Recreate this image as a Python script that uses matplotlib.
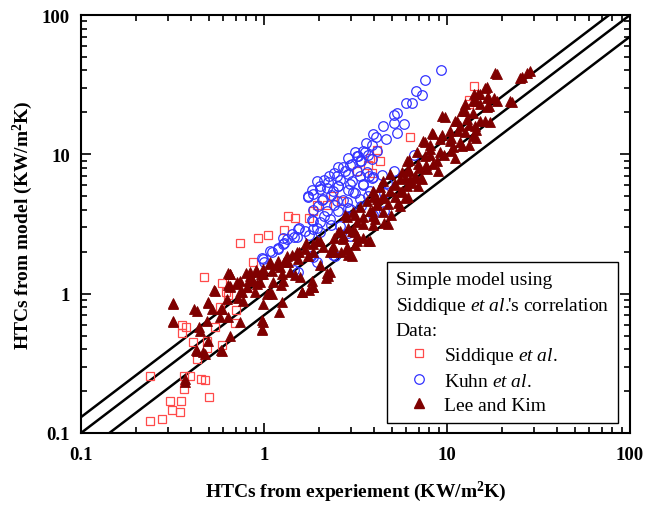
import numpy as np
import matplotlib
matplotlib.use("Agg")
import matplotlib.pyplot as plt
from matplotlib.lines import Line2D
from matplotlib.ticker import LogLocator, FixedLocator, FixedFormatter, NullFormatter

plt.rcParams['font.family'] = ['Liberation Serif', 'DejaVu Serif']
plt.rcParams['mathtext.fontset'] = 'custom'
plt.rcParams['mathtext.rm'] = 'Liberation Serif'
plt.rcParams['mathtext.it'] = 'Liberation Serif:italic'
plt.rcParams['mathtext.bf'] = 'Liberation Serif:bold'

# ---------------- data ----------------
siddique_x = [0.47, 0.589, 0.635, 0.703, 0.695, 0.575, 0.540, 0.489, 0.356, 0.374, 0.356, 0.409,
              0.489, 0.589, 0.43, 0.238, 0.366, 0.394, 0.453, 0.476, 0.366, 0.500, 0.306, 0.352,
              0.314, 0.347, 0.238, 0.277, 0.867, 0.741, 0.927, 1.05, 1.29, 1.36, 1.47, 1.77, 1.85,
              1.94, 2.21, 2.37, 2.64, 3.24, 3.70, 3.78, 4.32, 4.13, 6.31, 14.1, 13.2, 13.2, 0.83,
              3.87, 0.62]
siddique_y = [1.32, 1.19, 0.98, 0.764, 0.617, 0.804, 0.577, 0.457, 0.596, 0.577, 0.522, 0.450,
              0.407, 0.428, 0.34, 0.256, 0.256, 0.256, 0.244, 0.240, 0.207, 0.181, 0.170, 0.170,
              0.146, 0.142, 0.122, 0.126, 1.70, 2.30, 2.50, 2.64, 2.87, 3.58, 3.48, 3.48, 3.89,
              4.34, 4.34, 4.99, 4.59, 7.55, 8.43, 9.41, 9.00, 10.8, 13.3, 30.8, 24.7, 23.0, 1.09,
              7.34, 1.02]

kuhn_x = [9.23, 7.55, 6.75, 7.31, 5.96, 6.40, 5.12, 5.35, 5.85, 5.16, 5.35, 4.48, 3.92, 4.10,
          4.62, 3.61, 3.87, 3.13, 3.46, 4.17, 2.89, 3.28, 3.70, 2.96, 3.38, 2.55, 2.77, 2.42,
          3.24, 3.73, 2.12, 2.26, 2.59, 3.02, 4.42, 1.95, 2.02, 1.83, 1.73, 2.21, 2.53, 2.89,
          3.46, 3.87, 5.16, 6.61, 2.31, 3.16, 3.70, 4.52, 4.72, 2.07, 2.70, 2.42, 2.89, 3.38,
          1.85, 2.12, 1.83, 1.55, 1.45, 1.29, 1.19, 1.08, 0.97, 1.00, 1.27, 1.77, 1.94, 2.31,
          2.89, 3.95, 4.52, 1.45, 1.81, 2.37, 2.89,
          3.56, 3.22, 3.89, 3.03, 3.35, 2.70, 3.66, 2.51, 2.88, 3.35, 3.94, 2.24, 2.54, 2.95,
          3.48, 2.02, 2.38, 3.06, 3.79, 1.85, 2.10, 2.51, 2.84, 3.35, 1.74, 1.97, 2.21, 2.54,
          2.95, 1.85, 2.02, 2.30, 2.60, 1.53, 1.67, 1.85, 2.02, 1.42, 1.34, 1.51, 1.27, 1.19,
          1.11, 0.99, 2.95, 2.44, 1.85, 1.53, 1.95]
kuhn_y = [40.6, 33.9, 28.4, 26.6, 23.4, 23.4, 19.3, 19.8, 16.5, 16.8, 14.2, 15.9, 14.0, 13.3,
          12.8, 12.1, 11.7, 10.4, 10.5, 10.6, 9.41, 9.68, 9.94, 8.43, 8.91, 8.06, 7.55, 7.34,
          7.55, 6.95, 6.57, 6.95, 6.57, 6.40, 7.14, 6.40, 5.89, 5.57, 4.99, 5.72, 5.89, 5.57,
          6.05, 6.76, 7.55, 9.94, 5.13, 5.27, 4.99, 5.27, 6.22, 4.72, 4.72, 4.34, 4.11, 4.23,
          4.00, 3.58, 3.39, 2.95, 2.57, 2.30, 2.12, 2.01, 1.80, 1.70, 2.50, 2.64, 2.95, 3.12,
          3.58, 3.68, 3.89, 1.48, 1.85, 1.90, 2.72,
          10.4, 9.73, 9.27, 8.53, 8.97, 8.13, 7.48, 7.00, 7.23, 7.00, 6.89, 6.34, 5.93, 6.13,
          6.13, 5.65, 5.46, 5.37, 5.46, 5.20, 4.79, 4.63, 4.55, 4.79, 4.94, 4.26, 3.93, 3.93,
          4.06, 3.33, 3.27, 3.44, 3.06, 2.91, 2.82, 2.91, 2.77, 2.69, 2.47, 2.55, 2.28, 2.09,
          1.99, 1.77, 2.60, 1.87, 1.83, 1.43, 1.69]

lee_x = [0.652, 0.838, 0.916, 0.99, 0.711, 0.652, 0.540, 0.807, 0.916, 0.739, 0.494, 0.628,
         0.768, 0.893, 1.04, 0.318, 0.430, 0.520, 0.589, 0.635, 0.575, 0.739, 0.489, 0.318,
         0.447, 0.975, 0.99, 0.652, 0.494, 0.430, 0.476, 0.589, 0.370, 0.370,
         0.318, 0.318, 0.415, 0.444, 0.497, 0.530, 0.634, 0.58, 0.425, 0.464, 0.58, 0.709,
         0.634, 0.793, 0.906, 0.83, 0.946, 0.725, 1.08, 0.97, 0.97, 1.21, 1.24, 1.19, 1.08,
         1.48, 1.62, 1.77, 1.85, 1.55, 1.42, 1.29, 1.85, 1.69, 1.94, 2.02, 2.21, 2.17, 2.42,
         2.53, 2.42, 2.89, 3.16, 2.89, 2.64, 3.16, 3.46, 3.70, 2.77, 3.16, 3.78, 4.13, 4.52,
         3.95, 4.52, 4.94, 5.40, 5.91, 5.65, 5.16, 5.91, 6.18, 6.75, 7.06, 7.72, 8.83, 8.07,
         9.64, 10.5, 11.0, 12.1, 14.4, 13.2, 9.44, 8.26, 7.38, 9.44, 11.0, 11.5, 12.1, 12.6,
         13.8, 13.2, 14.4, 14.8, 16.1, 14.1, 16.5, 18.0, 16.1, 17.0, 18.4, 22.0, 25.2, 27.5,
         14.4, 10.5, 8.07, 6.18, 6.43, 7.22,
         18.8, 28.4, 25.7, 16.6, 15.1, 16.7, 18.8, 22.6, 13.9, 15.1, 16.6, 17.2, 15.1, 12.5,
         12.8, 9.75, 11.3, 11.8, 14.2, 10.4, 12.5, 13.9, 8.38, 9.16, 7.59, 10.4, 11.8, 8.07,
         9.16, 10.8, 6.85, 7.59, 6.04, 6.95, 8.38, 6.12, 7.78, 8.93, 5.68, 6.68, 4.89, 5.53,
         6.28, 7.29, 4.47, 5.20, 6.04, 6.95, 4.30, 4.89, 5.53, 3.94, 4.47, 5.20, 6.12, 3.94,
         3.66, 4.14, 4.76, 5.53, 3.35, 3.89, 4.47, 3.06, 3.48, 4.04, 4.76, 2.84, 3.22, 3.03,
         3.79, 2.70, 3.22, 2.84,
         4.14, 3.94, 3.48, 3.06, 3.24, 2.70, 2.60, 2.84, 3.03, 2.38, 2.02, 2.10, 2.30, 1.85,
         1.67, 1.74, 1.51, 1.53, 1.34, 1.36, 1.19, 1.22, 1.08, 1.11, 0.99, 0.96, 0.838, 0.87,
         0.652, 0.739, 0.652, 0.76, 1.25, 1.39, 1.57, 1.12, 1.27, 1.83, 2.24, 2.30, 1.62,
         1.11, 0.99, 1.25, 1.85]
lee_y = [1.38, 1.43, 1.43, 1.38, 1.21, 1.12, 1.05, 1.12, 1.18, 1.03, 0.871, 0.916, 0.887,
         1.03, 0.995, 0.843, 0.751, 0.777, 0.777, 0.680, 0.680, 0.627, 0.637, 0.627, 0.540,
         0.558, 0.627, 0.497, 0.457, 0.388, 0.369, 0.388, 0.244, 0.232,
         0.851, 0.636, 0.776, 0.579, 0.851, 1.06, 1.40, 0.776, 0.393, 0.383, 0.393, 1.17,
         1.15, 1.40, 1.48, 1.25, 1.22, 0.925, 1.03, 0.646, 0.548, 0.743, 1.15, 1.61, 1.70,
         1.36, 1.03, 1.06, 1.12, 2.00, 1.90, 1.70, 2.00, 2.30, 2.37, 1.61, 1.40, 1.29, 2.00,
         2.79, 2.50, 2.95, 2.79, 1.90, 2.00, 2.24, 2.50, 2.37, 3.68, 3.68, 3.89, 4.34, 4.85,
         3.12, 3.21, 3.68, 4.47, 4.85, 5.42, 6.05, 6.76, 7.55, 6.76, 7.98, 8.43, 8.91, 9.94,
         9.94, 10.5, 9.41, 11.4, 13.1, 11.7, 13.8, 14.2, 12.4, 18.8, 17.3, 14.6, 20.4, 22.8,
         19.8, 16.3, 24.0, 26.9, 30.0, 26.9, 25.4, 25.4, 17.3, 22.1, 38.5, 24.0, 35.4, 38.5,
         15.0, 13.1, 11.7, 9.16, 6.22, 6.76,
         37.7, 39.7, 36.0, 30.5, 27.2, 25.8, 24.2, 23.8, 24.2, 23.0, 21.9, 17.1, 17.4, 20.5,
         18.0, 18.5, 17.4, 16.0, 16.0, 14.7, 14.5, 13.6, 14.0, 12.9, 12.3, 12.5, 12.3, 10.9,
         10.4, 11.3, 10.4, 9.73, 8.97, 8.53, 8.53, 7.85, 7.85, 7.60, 7.48, 7.00, 7.23, 6.65,
         6.65, 6.65, 6.44, 6.13, 5.93, 5.93, 5.83, 5.46, 5.37, 5.46, 5.02, 4.94, 4.94, 4.94,
         4.63, 4.41, 4.41, 4.26, 4.19, 3.93, 3.86, 3.86, 3.56, 3.44, 3.16, 3.56, 3.27, 2.82,
         2.39, 2.60, 2.39, 2.16,
         4.79, 3.61, 3.16, 2.82, 2.60, 2.47, 2.82, 2.09, 1.87, 2.20, 2.39, 2.16, 1.99, 2.28,
         2.09, 1.87, 1.99, 1.77, 1.87, 1.69, 1.72, 1.56, 1.63, 1.46, 1.50, 1.38, 1.34, 1.23,
         1.38, 1.23, 1.13, 1.03, 1.38, 1.43, 1.32, 1.21, 1.23, 1.23, 1.34, 1.43, 1.03,
         0.995, 0.843, 0.871, 1.12]

band_factors = [1.3, 1.0, 0.7]   # model/experiment ratio of the guide lines
axis_limits = [0.1, 100]
tick_values = [0.1, 1, 10, 100]
tick_labels = ['0.1', '1', '10', '100']

# ---------------- figure ----------------
fig = plt.figure(figsize=(6.62, 5.06), dpi=100)
ax = fig.add_axes([81/662, 1-434/506, 549/662, 418/506])
ax.set_xscale('log')
ax.set_yscale('log')
ax.set_xlim(axis_limits)
ax.set_ylim(axis_limits)

xs = np.array(axis_limits, dtype=float)
for f in band_factors:
    ax.plot(xs, f * xs, color='black', lw=1.8, zorder=1)

ms = 6.3
ax.plot(siddique_x, siddique_y, linestyle='none', marker='s', ms=ms, mfc='none',
        mec='#ff4a4a', mew=0.9, zorder=3)
ax.plot(kuhn_x, kuhn_y, linestyle='none', marker='o', ms=ms + 0.6, mfc='none',
        mec='#3333ff', mew=0.9, zorder=3)
ax.plot(lee_x, lee_y, linestyle='none', marker='^', ms=ms + 1.0, mfc='#7f0000',
        mec='#7f0000', mew=0.6, zorder=4)

for a in (ax.xaxis, ax.yaxis):
    a.set_major_locator(FixedLocator(tick_values))
    a.set_major_formatter(FixedFormatter(tick_labels))
    a.set_minor_locator(LogLocator(base=10, subs=np.arange(2, 10), numticks=20))
    a.set_minor_formatter(NullFormatter())

ax.tick_params(which='both', direction='in', top=True, right=True, width=1.2, color='black')
ax.tick_params(which='major', length=7, labelsize=13.5)
ax.tick_params(axis='x', which='major', pad=9)
ax.tick_params(axis='y', which='major', pad=8)
ax.tick_params(which='minor', length=4)
for lab in ax.get_xticklabels() + ax.get_yticklabels():
    lab.set_fontweight('bold')
for s in ax.spines.values():
    s.set_linewidth(1.5)

ax.set_xlabel(r'HTCs from experiement (KW/m$^{\mathbf{2}}$K)', fontsize=14, fontweight='bold',
              labelpad=12)
ax.set_ylabel(r'HTCs from model (KW/m$^{\mathbf{2}}$K)', fontsize=14, fontweight='bold',
              labelpad=5)

handles = [
    Line2D([], [], linestyle='none', marker='s', ms=ms, mfc='none', mec='#ff4a4a', mew=0.9),
    Line2D([], [], linestyle='none', marker='o', ms=ms + 0.6, mfc='none', mec='#3333ff', mew=0.9),
    Line2D([], [], linestyle='none', marker='^', ms=ms + 1.0, mfc='#7f0000', mec='#7f0000'),
]
labels = [r'Siddique $\it{et\ al.}$', r'Kuhn $\it{et\ al.}$', 'Lee and Kim']
leg = ax.legend(handles, labels,
                title="Simple model using\nSiddique $\\it{et\\ al.}\\!\\!$'s correlation\nData:",
                loc='lower right', bbox_to_anchor=(0.978, 0.024), fontsize=14,
                title_fontsize=14, alignment='left', fancybox=False, framealpha=1,
                edgecolor='black', handlelength=2.4, handletextpad=0.1, labelspacing=0.33,
                borderpad=0.45, borderaxespad=0)
leg.get_title().set_linespacing(1.45)
leg.get_frame().set_linewidth(1.0)

fig.savefig('out.png', dpi=100)
